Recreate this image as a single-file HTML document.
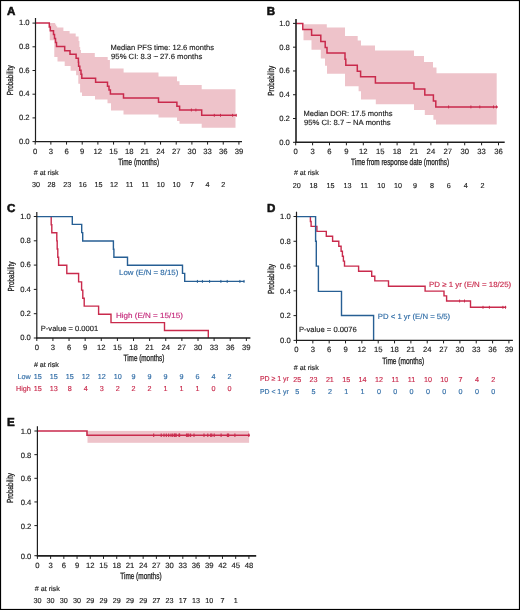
<!DOCTYPE html>
<html><head><meta charset="utf-8"><style>
html,body{margin:0;padding:0;background:#fff;}
body{width:520px;height:610px;overflow:hidden;font-family:"Liberation Sans",sans-serif;}
svg{display:block;will-change:transform;text-rendering:geometricPrecision;}
</style></head><body>
<svg width="520" height="610" viewBox="0 0 520 610" font-family="Liberation Sans, sans-serif">
<rect x="0" y="0" width="520" height="610" fill="#fff"/>
<text x="7" y="15" font-size="11.6" fill="#111" stroke="#111" stroke-width="0.55" font-weight="bold">A</text>
<path d="M49.8 23.1 L55.2 23.1 L55.2 24.6 L56.2 24.6 L56.2 26.2 L57.2 26.2 L57.2 27.6 L63.4 27.6 L63.4 31.1 L69.6 31.1 L69.6 33.4 L75.7 33.4 L75.7 36.6 L78.6 36.6 L78.6 41 L79.4 41 L79.4 47 L80.2 47 L80.2 50 L81 50 L81 53 L94.8 53 L94.8 57 L107.7 57 L107.7 60.1 L109.9 60.1 L109.9 68.4 L123.6 68.4 L123.6 72.5 L158.5 72.5 L158.5 76.6 L177 76.6 L177 81.2 L179.5 81.2 L179.5 85.1 L201.7 85.1 L201.7 89.2 L235.5 89.2 L235.5 127.8 L201.7 127.8 L201.7 123.7 L179.5 123.7 L179.5 121 L177 121 L177 117.5 L158.5 117.5 L158.5 114.4 L123.5 114.4 L123.5 110.6 L111 110.6 L111 103.2 L107.5 103.2 L107.5 99.5 L95 99.5 L95 95.9 L82 95.9 L82 92.5 L80.1 92.5 L80.1 83.8 L78.3 83.8 L78.3 75.3 L76.1 75.3 L76.1 70.7 L70.6 70.7 L70.6 66.1 L64.7 66.1 L64.7 61.6 L57.5 61.6 L57.5 57 L54.3 57 L54.3 40.2 L49.8 40.2Z" fill="#eec3ca"/>
<path d="M35.5 23.1H49.3V26.9H50.3V30.7H53.5V34.6H54.5V38.6H55.5V42.5H56.5V46.5H64.7V50.7H70V54.3H76.1V58.3H78.4V62.3H78.6V66.3H79.8V70.3H81V74.3H81.8V78.2H95.6V82.2H107.5V86.2H109V90.1H110.4V94.1H123.5V98.1H158.5V102.2H176.9V106.2H179.6V110H201.7V115.3H236.5" fill="none" stroke="#c92a4c" stroke-width="1.5" stroke-linejoin="miter"/>
<line x1="191.4" y1="108.55" x2="191.4" y2="111.45" stroke="#c92a4c" stroke-width="1"/>
<line x1="195.9" y1="108.55" x2="195.9" y2="111.45" stroke="#c92a4c" stroke-width="1"/>
<line x1="214.3" y1="113.85" x2="214.3" y2="116.75" stroke="#c92a4c" stroke-width="1"/>
<line x1="220.5" y1="113.85" x2="220.5" y2="116.75" stroke="#c92a4c" stroke-width="1"/>
<line x1="232.6" y1="113.85" x2="232.6" y2="116.75" stroke="#c92a4c" stroke-width="1"/>
<line x1="236.2" y1="113.85" x2="236.2" y2="116.75" stroke="#c92a4c" stroke-width="1"/>
<line x1="35.5" y1="18" x2="35.5" y2="142.2" stroke="#1e1e1e" stroke-width="1.2"/>
<line x1="34.9" y1="141.6" x2="242" y2="141.6" stroke="#1e1e1e" stroke-width="1.4"/>
<line x1="32.5" y1="23.1" x2="35.5" y2="23.1" stroke="#1e1e1e" stroke-width="1"/>
<text x="29.6" y="25.2" font-size="7.7" fill="#222222" stroke="#222222" stroke-width="0.15" text-anchor="end">1.0</text>
<line x1="32.5" y1="46.8" x2="35.5" y2="46.8" stroke="#1e1e1e" stroke-width="1"/>
<text x="29.6" y="48.9" font-size="7.7" fill="#222222" stroke="#222222" stroke-width="0.15" text-anchor="end">0.8</text>
<line x1="32.5" y1="70.5" x2="35.5" y2="70.5" stroke="#1e1e1e" stroke-width="1"/>
<text x="29.6" y="72.6" font-size="7.7" fill="#222222" stroke="#222222" stroke-width="0.15" text-anchor="end">0.6</text>
<line x1="32.5" y1="94.2" x2="35.5" y2="94.2" stroke="#1e1e1e" stroke-width="1"/>
<text x="29.6" y="96.3" font-size="7.7" fill="#222222" stroke="#222222" stroke-width="0.15" text-anchor="end">0.4</text>
<line x1="32.5" y1="117.9" x2="35.5" y2="117.9" stroke="#1e1e1e" stroke-width="1"/>
<text x="29.6" y="120" font-size="7.7" fill="#222222" stroke="#222222" stroke-width="0.15" text-anchor="end">0.2</text>
<line x1="32.5" y1="141.6" x2="35.5" y2="141.6" stroke="#1e1e1e" stroke-width="1"/>
<text x="29.6" y="143.7" font-size="7.7" fill="#222222" stroke="#222222" stroke-width="0.15" text-anchor="end">0.0</text>
<line x1="35.2" y1="141.6" x2="35.2" y2="144.6" stroke="#1e1e1e" stroke-width="1"/>
<text x="35.2" y="153.6" font-size="7.7" fill="#222222" stroke="#222222" stroke-width="0.15" text-anchor="middle">0</text>
<line x1="50.87" y1="141.6" x2="50.87" y2="144.6" stroke="#1e1e1e" stroke-width="1"/>
<text x="50.87" y="153.6" font-size="7.7" fill="#222222" stroke="#222222" stroke-width="0.15" text-anchor="middle">3</text>
<line x1="66.54" y1="141.6" x2="66.54" y2="144.6" stroke="#1e1e1e" stroke-width="1"/>
<text x="66.54" y="153.6" font-size="7.7" fill="#222222" stroke="#222222" stroke-width="0.15" text-anchor="middle">6</text>
<line x1="82.21" y1="141.6" x2="82.21" y2="144.6" stroke="#1e1e1e" stroke-width="1"/>
<text x="82.21" y="153.6" font-size="7.7" fill="#222222" stroke="#222222" stroke-width="0.15" text-anchor="middle">9</text>
<line x1="97.88" y1="141.6" x2="97.88" y2="144.6" stroke="#1e1e1e" stroke-width="1"/>
<text x="97.88" y="153.6" font-size="7.7" fill="#222222" stroke="#222222" stroke-width="0.15" text-anchor="middle">12</text>
<line x1="113.55" y1="141.6" x2="113.55" y2="144.6" stroke="#1e1e1e" stroke-width="1"/>
<text x="113.55" y="153.6" font-size="7.7" fill="#222222" stroke="#222222" stroke-width="0.15" text-anchor="middle">15</text>
<line x1="129.22" y1="141.6" x2="129.22" y2="144.6" stroke="#1e1e1e" stroke-width="1"/>
<text x="129.22" y="153.6" font-size="7.7" fill="#222222" stroke="#222222" stroke-width="0.15" text-anchor="middle">18</text>
<line x1="144.89" y1="141.6" x2="144.89" y2="144.6" stroke="#1e1e1e" stroke-width="1"/>
<text x="144.89" y="153.6" font-size="7.7" fill="#222222" stroke="#222222" stroke-width="0.15" text-anchor="middle">21</text>
<line x1="160.56" y1="141.6" x2="160.56" y2="144.6" stroke="#1e1e1e" stroke-width="1"/>
<text x="160.56" y="153.6" font-size="7.7" fill="#222222" stroke="#222222" stroke-width="0.15" text-anchor="middle">24</text>
<line x1="176.23" y1="141.6" x2="176.23" y2="144.6" stroke="#1e1e1e" stroke-width="1"/>
<text x="176.23" y="153.6" font-size="7.7" fill="#222222" stroke="#222222" stroke-width="0.15" text-anchor="middle">27</text>
<line x1="191.9" y1="141.6" x2="191.9" y2="144.6" stroke="#1e1e1e" stroke-width="1"/>
<text x="191.9" y="153.6" font-size="7.7" fill="#222222" stroke="#222222" stroke-width="0.15" text-anchor="middle">30</text>
<line x1="207.57" y1="141.6" x2="207.57" y2="144.6" stroke="#1e1e1e" stroke-width="1"/>
<text x="207.57" y="153.6" font-size="7.7" fill="#222222" stroke="#222222" stroke-width="0.15" text-anchor="middle">33</text>
<line x1="223.24" y1="141.6" x2="223.24" y2="144.6" stroke="#1e1e1e" stroke-width="1"/>
<text x="223.24" y="153.6" font-size="7.7" fill="#222222" stroke="#222222" stroke-width="0.15" text-anchor="middle">36</text>
<line x1="238.91" y1="141.6" x2="238.91" y2="144.6" stroke="#1e1e1e" stroke-width="1"/>
<text x="238.91" y="153.6" font-size="7.7" fill="#222222" stroke="#222222" stroke-width="0.15" text-anchor="middle">39</text>
<text transform="translate(12.8 80.3) rotate(-90)" x="0" y="0" font-size="8.8" fill="#222222" stroke="#222222" stroke-width="0.3" text-anchor="middle" textLength="30" lengthAdjust="spacingAndGlyphs">Probability</text>
<text x="138.7" y="164.8" font-size="9.2" fill="#222222" stroke="#222222" stroke-width="0.3" text-anchor="middle" textLength="41" lengthAdjust="spacingAndGlyphs">Time (months)</text>
<text x="110.5" y="49.9" font-size="7.6" fill="#222222" stroke="#222222" stroke-width="0.15" textLength="103.5" lengthAdjust="spacingAndGlyphs">Median PFS time: 12.6 months</text>
<text x="111.1" y="58.8" font-size="7.6" fill="#222222" stroke="#222222" stroke-width="0.15" textLength="91.2" lengthAdjust="spacingAndGlyphs">95% CI: 8.3 ~ 27.6 months</text>
<text x="33.7" y="174.8" font-size="7" fill="#222222" stroke="#222222" stroke-width="0.15" textLength="25" lengthAdjust="spacingAndGlyphs"># at risk</text>
<text x="36" y="187" font-size="7.2" fill="#222222" stroke="#222222" stroke-width="0.15" text-anchor="middle">30</text>
<text x="51.6" y="187" font-size="7.2" fill="#222222" stroke="#222222" stroke-width="0.15" text-anchor="middle">28</text>
<text x="67.2" y="187" font-size="7.2" fill="#222222" stroke="#222222" stroke-width="0.15" text-anchor="middle">23</text>
<text x="82.8" y="187" font-size="7.2" fill="#222222" stroke="#222222" stroke-width="0.15" text-anchor="middle">16</text>
<text x="98.4" y="187" font-size="7.2" fill="#222222" stroke="#222222" stroke-width="0.15" text-anchor="middle">15</text>
<text x="114" y="187" font-size="7.2" fill="#222222" stroke="#222222" stroke-width="0.15" text-anchor="middle">12</text>
<text x="129.6" y="187" font-size="7.2" fill="#222222" stroke="#222222" stroke-width="0.15" text-anchor="middle">11</text>
<text x="145.2" y="187" font-size="7.2" fill="#222222" stroke="#222222" stroke-width="0.15" text-anchor="middle">11</text>
<text x="160.8" y="187" font-size="7.2" fill="#222222" stroke="#222222" stroke-width="0.15" text-anchor="middle">10</text>
<text x="176.4" y="187" font-size="7.2" fill="#222222" stroke="#222222" stroke-width="0.15" text-anchor="middle">10</text>
<text x="192" y="187" font-size="7.2" fill="#222222" stroke="#222222" stroke-width="0.15" text-anchor="middle">7</text>
<text x="207.6" y="187" font-size="7.2" fill="#222222" stroke="#222222" stroke-width="0.15" text-anchor="middle">4</text>
<text x="223.2" y="187" font-size="7.2" fill="#222222" stroke="#222222" stroke-width="0.15" text-anchor="middle">2</text>
<text x="266.8" y="15" font-size="11.6" fill="#111" stroke="#111" stroke-width="0.55" font-weight="bold">B</text>
<path d="M303.5 24.2 L326.8 24.2 L326.8 27.6 L345 27.6 L345 36 L357.7 36 L357.7 40.5 L361 40.5 L361 45.4 L375 45.4 L375 50.5 L414 50.5 L414 55.9 L424 55.9 L424 61.9 L433 61.9 L433 67.4 L436.5 67.4 L436.5 73.2 L496.7 73.2 L496.7 124.5 L436 124.5 L436 119.7 L433.4 119.7 L433.4 114.9 L424.8 114.9 L424.8 110 L414 110 L414 104.2 L375.8 104.2 L375.8 99.4 L361 99.4 L361 91.3 L358.6 91.3 L358.6 86.3 L345 86.3 L345 73.7 L327 73.7 L327 65.8 L325 65.8 L325 58.6 L320.8 58.6 L320.8 49.7 L311.5 49.7 L311.5 40.3 L303.5 40.3Z" fill="#eec3ca"/>
<path d="M296 23.5H302.8V29.5H311.6V35.3H320.8V41.5H325.2V47.5H327V53.1H345V59.3H345.8V65.2H357.3V71.2H360.6V76.8H375.4V83H414V89H424.8V95H433.4V101H435.8V106.9H497.8" fill="none" stroke="#c92a4c" stroke-width="1.5" stroke-linejoin="miter"/>
<line x1="448.6" y1="105.45" x2="448.6" y2="108.35" stroke="#c92a4c" stroke-width="1"/>
<line x1="470.9" y1="105.45" x2="470.9" y2="108.35" stroke="#c92a4c" stroke-width="1"/>
<line x1="479.8" y1="105.45" x2="479.8" y2="108.35" stroke="#c92a4c" stroke-width="1"/>
<line x1="493.5" y1="105.45" x2="493.5" y2="108.35" stroke="#c92a4c" stroke-width="1"/>
<line x1="496.5" y1="105.45" x2="496.5" y2="108.35" stroke="#c92a4c" stroke-width="1"/>
<line x1="296" y1="19" x2="296" y2="142.9" stroke="#1e1e1e" stroke-width="1.6"/>
<line x1="295.4" y1="142.3" x2="504.7" y2="142.3" stroke="#1e1e1e" stroke-width="1.4"/>
<line x1="293" y1="23.4" x2="296" y2="23.4" stroke="#1e1e1e" stroke-width="1"/>
<text x="289.9" y="25.9" font-size="7.7" fill="#222222" stroke="#222222" stroke-width="0.15" text-anchor="end">1.0</text>
<line x1="293" y1="47.18" x2="296" y2="47.18" stroke="#1e1e1e" stroke-width="1"/>
<text x="289.9" y="49.68" font-size="7.7" fill="#222222" stroke="#222222" stroke-width="0.15" text-anchor="end">0.8</text>
<line x1="293" y1="70.96" x2="296" y2="70.96" stroke="#1e1e1e" stroke-width="1"/>
<text x="289.9" y="73.46" font-size="7.7" fill="#222222" stroke="#222222" stroke-width="0.15" text-anchor="end">0.6</text>
<line x1="293" y1="94.74" x2="296" y2="94.74" stroke="#1e1e1e" stroke-width="1"/>
<text x="289.9" y="97.24" font-size="7.7" fill="#222222" stroke="#222222" stroke-width="0.15" text-anchor="end">0.4</text>
<line x1="293" y1="118.52" x2="296" y2="118.52" stroke="#1e1e1e" stroke-width="1"/>
<text x="289.9" y="121.02" font-size="7.7" fill="#222222" stroke="#222222" stroke-width="0.15" text-anchor="end">0.2</text>
<line x1="293" y1="142.3" x2="296" y2="142.3" stroke="#1e1e1e" stroke-width="1"/>
<text x="289.9" y="144.8" font-size="7.7" fill="#222222" stroke="#222222" stroke-width="0.15" text-anchor="end">0.0</text>
<line x1="295.7" y1="142.3" x2="295.7" y2="145.3" stroke="#1e1e1e" stroke-width="1"/>
<text x="295.7" y="153.9" font-size="7.7" fill="#222222" stroke="#222222" stroke-width="0.15" text-anchor="middle">0</text>
<line x1="312.6" y1="142.3" x2="312.6" y2="145.3" stroke="#1e1e1e" stroke-width="1"/>
<text x="312.6" y="153.9" font-size="7.7" fill="#222222" stroke="#222222" stroke-width="0.15" text-anchor="middle">3</text>
<line x1="329.5" y1="142.3" x2="329.5" y2="145.3" stroke="#1e1e1e" stroke-width="1"/>
<text x="329.5" y="153.9" font-size="7.7" fill="#222222" stroke="#222222" stroke-width="0.15" text-anchor="middle">6</text>
<line x1="346.4" y1="142.3" x2="346.4" y2="145.3" stroke="#1e1e1e" stroke-width="1"/>
<text x="346.4" y="153.9" font-size="7.7" fill="#222222" stroke="#222222" stroke-width="0.15" text-anchor="middle">9</text>
<line x1="363.3" y1="142.3" x2="363.3" y2="145.3" stroke="#1e1e1e" stroke-width="1"/>
<text x="363.3" y="153.9" font-size="7.7" fill="#222222" stroke="#222222" stroke-width="0.15" text-anchor="middle">12</text>
<line x1="380.2" y1="142.3" x2="380.2" y2="145.3" stroke="#1e1e1e" stroke-width="1"/>
<text x="380.2" y="153.9" font-size="7.7" fill="#222222" stroke="#222222" stroke-width="0.15" text-anchor="middle">15</text>
<line x1="397.1" y1="142.3" x2="397.1" y2="145.3" stroke="#1e1e1e" stroke-width="1"/>
<text x="397.1" y="153.9" font-size="7.7" fill="#222222" stroke="#222222" stroke-width="0.15" text-anchor="middle">18</text>
<line x1="414" y1="142.3" x2="414" y2="145.3" stroke="#1e1e1e" stroke-width="1"/>
<text x="414" y="153.9" font-size="7.7" fill="#222222" stroke="#222222" stroke-width="0.15" text-anchor="middle">21</text>
<line x1="430.9" y1="142.3" x2="430.9" y2="145.3" stroke="#1e1e1e" stroke-width="1"/>
<text x="430.9" y="153.9" font-size="7.7" fill="#222222" stroke="#222222" stroke-width="0.15" text-anchor="middle">24</text>
<line x1="447.8" y1="142.3" x2="447.8" y2="145.3" stroke="#1e1e1e" stroke-width="1"/>
<text x="447.8" y="153.9" font-size="7.7" fill="#222222" stroke="#222222" stroke-width="0.15" text-anchor="middle">27</text>
<line x1="464.7" y1="142.3" x2="464.7" y2="145.3" stroke="#1e1e1e" stroke-width="1"/>
<text x="464.7" y="153.9" font-size="7.7" fill="#222222" stroke="#222222" stroke-width="0.15" text-anchor="middle">30</text>
<line x1="481.6" y1="142.3" x2="481.6" y2="145.3" stroke="#1e1e1e" stroke-width="1"/>
<text x="481.6" y="153.9" font-size="7.7" fill="#222222" stroke="#222222" stroke-width="0.15" text-anchor="middle">33</text>
<line x1="498.5" y1="142.3" x2="498.5" y2="145.3" stroke="#1e1e1e" stroke-width="1"/>
<text x="498.5" y="153.9" font-size="7.7" fill="#222222" stroke="#222222" stroke-width="0.15" text-anchor="middle">36</text>
<text transform="translate(274 80.8) rotate(-90)" x="0" y="0" font-size="8.8" fill="#222222" stroke="#222222" stroke-width="0.3" text-anchor="middle" textLength="30" lengthAdjust="spacingAndGlyphs">Probability</text>
<text x="400.1" y="164.7" font-size="9.2" fill="#222222" stroke="#222222" stroke-width="0.3" text-anchor="middle" textLength="98" lengthAdjust="spacingAndGlyphs">Time from response date (months)</text>
<text x="303.6" y="116.4" font-size="7.6" fill="#222222" stroke="#222222" stroke-width="0.15" textLength="88.9" lengthAdjust="spacingAndGlyphs">Median DOR: 17.5 months</text>
<text x="303.9" y="125.3" font-size="7.6" fill="#222222" stroke="#222222" stroke-width="0.15" textLength="86.8" lengthAdjust="spacingAndGlyphs">95% CI: 8.7 ~ NA months</text>
<text x="293.9" y="175.2" font-size="7" fill="#222222" stroke="#222222" stroke-width="0.15" textLength="24.8" lengthAdjust="spacingAndGlyphs"># at risk</text>
<text x="296.7" y="187.7" font-size="7.2" fill="#222222" stroke="#222222" stroke-width="0.15" text-anchor="middle">20</text>
<text x="313.6" y="187.7" font-size="7.2" fill="#222222" stroke="#222222" stroke-width="0.15" text-anchor="middle">18</text>
<text x="330.5" y="187.7" font-size="7.2" fill="#222222" stroke="#222222" stroke-width="0.15" text-anchor="middle">15</text>
<text x="347.4" y="187.7" font-size="7.2" fill="#222222" stroke="#222222" stroke-width="0.15" text-anchor="middle">13</text>
<text x="364.3" y="187.7" font-size="7.2" fill="#222222" stroke="#222222" stroke-width="0.15" text-anchor="middle">11</text>
<text x="381.2" y="187.7" font-size="7.2" fill="#222222" stroke="#222222" stroke-width="0.15" text-anchor="middle">10</text>
<text x="398.1" y="187.7" font-size="7.2" fill="#222222" stroke="#222222" stroke-width="0.15" text-anchor="middle">10</text>
<text x="415" y="187.7" font-size="7.2" fill="#222222" stroke="#222222" stroke-width="0.15" text-anchor="middle">9</text>
<text x="431.9" y="187.7" font-size="7.2" fill="#222222" stroke="#222222" stroke-width="0.15" text-anchor="middle">8</text>
<text x="448.8" y="187.7" font-size="7.2" fill="#222222" stroke="#222222" stroke-width="0.15" text-anchor="middle">6</text>
<text x="465.7" y="187.7" font-size="7.2" fill="#222222" stroke="#222222" stroke-width="0.15" text-anchor="middle">4</text>
<text x="482.6" y="187.7" font-size="7.2" fill="#222222" stroke="#222222" stroke-width="0.15" text-anchor="middle">2</text>
<text x="7.1" y="211.5" font-size="11.6" fill="#111" stroke="#111" stroke-width="0.55" font-weight="bold">C</text>
<path d="M50.4 216.6H51.2V224.7H51.8V232.8H56.8V240.9H57.2V249H57.8V257.3H58.6V265.3H66.8V273.5H78.6V281.9H81.6V290.1H82.8V298.2H84.2V306.1H98.6V314.3H111V322.6H164.5V330.5H208.3V338" fill="none" stroke="#c92a4c" stroke-width="1.4" stroke-linejoin="miter"/>
<path d="M36.8 216.6H72.3V224.4H81.7V232.6H82.7V241H113.4V249.3H113.9V257.2H127.5V265.3H182.5V273.4H184.7V281.4H244.4" fill="none" stroke="#275f94" stroke-width="1.4" stroke-linejoin="miter"/>
<line x1="197.4" y1="279.95" x2="197.4" y2="282.85" stroke="#275f94" stroke-width="1"/>
<line x1="202.4" y1="279.95" x2="202.4" y2="282.85" stroke="#275f94" stroke-width="1"/>
<line x1="209.6" y1="279.95" x2="209.6" y2="282.85" stroke="#275f94" stroke-width="1"/>
<line x1="220.9" y1="279.95" x2="220.9" y2="282.85" stroke="#275f94" stroke-width="1"/>
<line x1="227.2" y1="279.95" x2="227.2" y2="282.85" stroke="#275f94" stroke-width="1"/>
<line x1="239.9" y1="279.95" x2="239.9" y2="282.85" stroke="#275f94" stroke-width="1"/>
<line x1="244" y1="279.95" x2="244" y2="282.85" stroke="#275f94" stroke-width="1"/>
<line x1="36.8" y1="212" x2="36.8" y2="338.6" stroke="#1e1e1e" stroke-width="1.2"/>
<line x1="36.2" y1="338" x2="250.4" y2="338" stroke="#1e1e1e" stroke-width="1.4"/>
<line x1="33.8" y1="216.5" x2="36.8" y2="216.5" stroke="#1e1e1e" stroke-width="1"/>
<text x="30.9" y="218.8" font-size="7.7" fill="#222222" stroke="#222222" stroke-width="0.15" text-anchor="end">1.0</text>
<line x1="33.8" y1="240.8" x2="36.8" y2="240.8" stroke="#1e1e1e" stroke-width="1"/>
<text x="30.9" y="243.1" font-size="7.7" fill="#222222" stroke="#222222" stroke-width="0.15" text-anchor="end">0.8</text>
<line x1="33.8" y1="265.1" x2="36.8" y2="265.1" stroke="#1e1e1e" stroke-width="1"/>
<text x="30.9" y="267.4" font-size="7.7" fill="#222222" stroke="#222222" stroke-width="0.15" text-anchor="end">0.6</text>
<line x1="33.8" y1="289.4" x2="36.8" y2="289.4" stroke="#1e1e1e" stroke-width="1"/>
<text x="30.9" y="291.7" font-size="7.7" fill="#222222" stroke="#222222" stroke-width="0.15" text-anchor="end">0.4</text>
<line x1="33.8" y1="313.7" x2="36.8" y2="313.7" stroke="#1e1e1e" stroke-width="1"/>
<text x="30.9" y="316" font-size="7.7" fill="#222222" stroke="#222222" stroke-width="0.15" text-anchor="end">0.2</text>
<line x1="33.8" y1="338" x2="36.8" y2="338" stroke="#1e1e1e" stroke-width="1"/>
<text x="30.9" y="340.3" font-size="7.7" fill="#222222" stroke="#222222" stroke-width="0.15" text-anchor="end">0.0</text>
<line x1="36.8" y1="338" x2="36.8" y2="341" stroke="#1e1e1e" stroke-width="1"/>
<text x="36.8" y="350.2" font-size="7.7" fill="#222222" stroke="#222222" stroke-width="0.15" text-anchor="middle">0</text>
<line x1="52.92" y1="338" x2="52.92" y2="341" stroke="#1e1e1e" stroke-width="1"/>
<text x="52.92" y="350.2" font-size="7.7" fill="#222222" stroke="#222222" stroke-width="0.15" text-anchor="middle">3</text>
<line x1="69.04" y1="338" x2="69.04" y2="341" stroke="#1e1e1e" stroke-width="1"/>
<text x="69.04" y="350.2" font-size="7.7" fill="#222222" stroke="#222222" stroke-width="0.15" text-anchor="middle">6</text>
<line x1="85.16" y1="338" x2="85.16" y2="341" stroke="#1e1e1e" stroke-width="1"/>
<text x="85.16" y="350.2" font-size="7.7" fill="#222222" stroke="#222222" stroke-width="0.15" text-anchor="middle">9</text>
<line x1="101.28" y1="338" x2="101.28" y2="341" stroke="#1e1e1e" stroke-width="1"/>
<text x="101.28" y="350.2" font-size="7.7" fill="#222222" stroke="#222222" stroke-width="0.15" text-anchor="middle">12</text>
<line x1="117.4" y1="338" x2="117.4" y2="341" stroke="#1e1e1e" stroke-width="1"/>
<text x="117.4" y="350.2" font-size="7.7" fill="#222222" stroke="#222222" stroke-width="0.15" text-anchor="middle">15</text>
<line x1="133.52" y1="338" x2="133.52" y2="341" stroke="#1e1e1e" stroke-width="1"/>
<text x="133.52" y="350.2" font-size="7.7" fill="#222222" stroke="#222222" stroke-width="0.15" text-anchor="middle">18</text>
<line x1="149.64" y1="338" x2="149.64" y2="341" stroke="#1e1e1e" stroke-width="1"/>
<text x="149.64" y="350.2" font-size="7.7" fill="#222222" stroke="#222222" stroke-width="0.15" text-anchor="middle">21</text>
<line x1="165.76" y1="338" x2="165.76" y2="341" stroke="#1e1e1e" stroke-width="1"/>
<text x="165.76" y="350.2" font-size="7.7" fill="#222222" stroke="#222222" stroke-width="0.15" text-anchor="middle">24</text>
<line x1="181.88" y1="338" x2="181.88" y2="341" stroke="#1e1e1e" stroke-width="1"/>
<text x="181.88" y="350.2" font-size="7.7" fill="#222222" stroke="#222222" stroke-width="0.15" text-anchor="middle">27</text>
<line x1="198" y1="338" x2="198" y2="341" stroke="#1e1e1e" stroke-width="1"/>
<text x="198" y="350.2" font-size="7.7" fill="#222222" stroke="#222222" stroke-width="0.15" text-anchor="middle">30</text>
<line x1="214.12" y1="338" x2="214.12" y2="341" stroke="#1e1e1e" stroke-width="1"/>
<text x="214.12" y="350.2" font-size="7.7" fill="#222222" stroke="#222222" stroke-width="0.15" text-anchor="middle">33</text>
<line x1="230.24" y1="338" x2="230.24" y2="341" stroke="#1e1e1e" stroke-width="1"/>
<text x="230.24" y="350.2" font-size="7.7" fill="#222222" stroke="#222222" stroke-width="0.15" text-anchor="middle">36</text>
<line x1="246.36" y1="338" x2="246.36" y2="341" stroke="#1e1e1e" stroke-width="1"/>
<text x="246.36" y="350.2" font-size="7.7" fill="#222222" stroke="#222222" stroke-width="0.15" text-anchor="middle">39</text>
<text transform="translate(13.6 276.5) rotate(-90)" x="0" y="0" font-size="8.8" fill="#222222" stroke="#222222" stroke-width="0.3" text-anchor="middle" textLength="30" lengthAdjust="spacingAndGlyphs">Probability</text>
<text x="143.9" y="360.8" font-size="9.2" fill="#222222" stroke="#222222" stroke-width="0.3" text-anchor="middle" textLength="40.7" lengthAdjust="spacingAndGlyphs">Time (months)</text>
<text x="119" y="275.4" font-size="7.6" fill="#2f6ca6" stroke="#2f6ca6" stroke-width="0.15" textLength="59.3" lengthAdjust="spacingAndGlyphs">Low (E/N = 8/15)</text>
<text x="115.9" y="317.9" font-size="7.6" fill="#c4287a" stroke="#c4287a" stroke-width="0.15" textLength="67" lengthAdjust="spacingAndGlyphs">High (E/N = 15/15)</text>
<text x="40.8" y="330.9" font-size="7.6" fill="#222222" stroke="#222222" stroke-width="0.15" textLength="57.4" lengthAdjust="spacingAndGlyphs">P-value = 0.0001</text>
<text x="33.9" y="367" font-size="6.8" fill="#222222" stroke="#222222" stroke-width="0.15" textLength="24.9" lengthAdjust="spacingAndGlyphs"># at risk</text>
<text x="30.8" y="378.9" font-size="7.2" fill="#2f6ca6" stroke="#2f6ca6" stroke-width="0.15" text-anchor="end">Low</text>
<text x="30.8" y="391.1" font-size="7.2" fill="#c92a4c" stroke="#c92a4c" stroke-width="0.15" text-anchor="end">High</text>
<text x="37.8" y="378.9" font-size="7.2" fill="#2f6ca6" stroke="#2f6ca6" stroke-width="0.15" text-anchor="middle">15</text>
<text x="53.77" y="378.9" font-size="7.2" fill="#2f6ca6" stroke="#2f6ca6" stroke-width="0.15" text-anchor="middle">15</text>
<text x="69.74" y="378.9" font-size="7.2" fill="#2f6ca6" stroke="#2f6ca6" stroke-width="0.15" text-anchor="middle">15</text>
<text x="85.71" y="378.9" font-size="7.2" fill="#2f6ca6" stroke="#2f6ca6" stroke-width="0.15" text-anchor="middle">12</text>
<text x="101.68" y="378.9" font-size="7.2" fill="#2f6ca6" stroke="#2f6ca6" stroke-width="0.15" text-anchor="middle">12</text>
<text x="117.65" y="378.9" font-size="7.2" fill="#2f6ca6" stroke="#2f6ca6" stroke-width="0.15" text-anchor="middle">10</text>
<text x="133.62" y="378.9" font-size="7.2" fill="#2f6ca6" stroke="#2f6ca6" stroke-width="0.15" text-anchor="middle">9</text>
<text x="149.59" y="378.9" font-size="7.2" fill="#2f6ca6" stroke="#2f6ca6" stroke-width="0.15" text-anchor="middle">9</text>
<text x="165.56" y="378.9" font-size="7.2" fill="#2f6ca6" stroke="#2f6ca6" stroke-width="0.15" text-anchor="middle">9</text>
<text x="181.53" y="378.9" font-size="7.2" fill="#2f6ca6" stroke="#2f6ca6" stroke-width="0.15" text-anchor="middle">9</text>
<text x="197.5" y="378.9" font-size="7.2" fill="#2f6ca6" stroke="#2f6ca6" stroke-width="0.15" text-anchor="middle">6</text>
<text x="213.47" y="378.9" font-size="7.2" fill="#2f6ca6" stroke="#2f6ca6" stroke-width="0.15" text-anchor="middle">4</text>
<text x="229.44" y="378.9" font-size="7.2" fill="#2f6ca6" stroke="#2f6ca6" stroke-width="0.15" text-anchor="middle">2</text>
<text x="37.8" y="391.1" font-size="7.2" fill="#c92a4c" stroke="#c92a4c" stroke-width="0.15" text-anchor="middle">15</text>
<text x="53.77" y="391.1" font-size="7.2" fill="#c92a4c" stroke="#c92a4c" stroke-width="0.15" text-anchor="middle">13</text>
<text x="69.74" y="391.1" font-size="7.2" fill="#c92a4c" stroke="#c92a4c" stroke-width="0.15" text-anchor="middle">8</text>
<text x="85.71" y="391.1" font-size="7.2" fill="#c92a4c" stroke="#c92a4c" stroke-width="0.15" text-anchor="middle">4</text>
<text x="101.68" y="391.1" font-size="7.2" fill="#c92a4c" stroke="#c92a4c" stroke-width="0.15" text-anchor="middle">3</text>
<text x="117.65" y="391.1" font-size="7.2" fill="#c92a4c" stroke="#c92a4c" stroke-width="0.15" text-anchor="middle">2</text>
<text x="133.62" y="391.1" font-size="7.2" fill="#c92a4c" stroke="#c92a4c" stroke-width="0.15" text-anchor="middle">2</text>
<text x="149.59" y="391.1" font-size="7.2" fill="#c92a4c" stroke="#c92a4c" stroke-width="0.15" text-anchor="middle">2</text>
<text x="165.56" y="391.1" font-size="7.2" fill="#c92a4c" stroke="#c92a4c" stroke-width="0.15" text-anchor="middle">1</text>
<text x="181.53" y="391.1" font-size="7.2" fill="#c92a4c" stroke="#c92a4c" stroke-width="0.15" text-anchor="middle">1</text>
<text x="197.5" y="391.1" font-size="7.2" fill="#c92a4c" stroke="#c92a4c" stroke-width="0.15" text-anchor="middle">1</text>
<text x="213.47" y="391.1" font-size="7.2" fill="#c92a4c" stroke="#c92a4c" stroke-width="0.15" text-anchor="middle">0</text>
<text x="229.44" y="391.1" font-size="7.2" fill="#c92a4c" stroke="#c92a4c" stroke-width="0.15" text-anchor="middle">0</text>
<text x="266.9" y="211.6" font-size="11.6" fill="#111" stroke="#111" stroke-width="0.55" font-weight="bold">D</text>
<path d="M309.6 216.6H310.4V221.5H311.1V226.4H316.9V231.4H326.3V236.3H332.6V241.3H338.8V246.2H341.1V251.2H342.4V256.2H343.4V261.1H344.5V266.1H358.6V271.3H371.7V276.2H374.8V280.9H388.5V286.2H425.1V291.1H444V295.9H446.6V301H470.5V307.3H506.3" fill="none" stroke="#c92a4c" stroke-width="1.4" stroke-linejoin="miter"/>
<path d="M296.5 216.6H315.6V241.3H316.3V266.1H318.4V291.4H341.5V315.5H373.6V340.4" fill="none" stroke="#275f94" stroke-width="1.4" stroke-linejoin="miter"/>
<line x1="459.6" y1="299.55" x2="459.6" y2="302.45" stroke="#c92a4c" stroke-width="1"/>
<line x1="464.5" y1="299.55" x2="464.5" y2="302.45" stroke="#c92a4c" stroke-width="1"/>
<line x1="483" y1="305.85" x2="483" y2="308.75" stroke="#c92a4c" stroke-width="1"/>
<line x1="489.4" y1="305.85" x2="489.4" y2="308.75" stroke="#c92a4c" stroke-width="1"/>
<line x1="502.9" y1="305.85" x2="502.9" y2="308.75" stroke="#c92a4c" stroke-width="1"/>
<line x1="505.5" y1="305.85" x2="505.5" y2="308.75" stroke="#c92a4c" stroke-width="1"/>
<line x1="296.5" y1="211.7" x2="296.5" y2="341" stroke="#1e1e1e" stroke-width="1.2"/>
<line x1="295.9" y1="340.4" x2="512.9" y2="340.4" stroke="#1e1e1e" stroke-width="1.4"/>
<line x1="293.5" y1="216.5" x2="296.5" y2="216.5" stroke="#1e1e1e" stroke-width="1"/>
<text x="290.8" y="219.3" font-size="7.7" fill="#222222" stroke="#222222" stroke-width="0.15" text-anchor="end">1.0</text>
<line x1="293.5" y1="241.28" x2="296.5" y2="241.28" stroke="#1e1e1e" stroke-width="1"/>
<text x="290.8" y="244.08" font-size="7.7" fill="#222222" stroke="#222222" stroke-width="0.15" text-anchor="end">0.8</text>
<line x1="293.5" y1="266.06" x2="296.5" y2="266.06" stroke="#1e1e1e" stroke-width="1"/>
<text x="290.8" y="268.86" font-size="7.7" fill="#222222" stroke="#222222" stroke-width="0.15" text-anchor="end">0.6</text>
<line x1="293.5" y1="290.84" x2="296.5" y2="290.84" stroke="#1e1e1e" stroke-width="1"/>
<text x="290.8" y="293.64" font-size="7.7" fill="#222222" stroke="#222222" stroke-width="0.15" text-anchor="end">0.4</text>
<line x1="293.5" y1="315.62" x2="296.5" y2="315.62" stroke="#1e1e1e" stroke-width="1"/>
<text x="290.8" y="318.42" font-size="7.7" fill="#222222" stroke="#222222" stroke-width="0.15" text-anchor="end">0.2</text>
<line x1="293.5" y1="340.4" x2="296.5" y2="340.4" stroke="#1e1e1e" stroke-width="1"/>
<text x="290.8" y="343.2" font-size="7.7" fill="#222222" stroke="#222222" stroke-width="0.15" text-anchor="end">0.0</text>
<line x1="296.5" y1="340.4" x2="296.5" y2="343.4" stroke="#1e1e1e" stroke-width="1"/>
<text x="296.5" y="352.1" font-size="7.7" fill="#222222" stroke="#222222" stroke-width="0.15" text-anchor="middle">0</text>
<line x1="312.84" y1="340.4" x2="312.84" y2="343.4" stroke="#1e1e1e" stroke-width="1"/>
<text x="312.84" y="352.1" font-size="7.7" fill="#222222" stroke="#222222" stroke-width="0.15" text-anchor="middle">3</text>
<line x1="329.18" y1="340.4" x2="329.18" y2="343.4" stroke="#1e1e1e" stroke-width="1"/>
<text x="329.18" y="352.1" font-size="7.7" fill="#222222" stroke="#222222" stroke-width="0.15" text-anchor="middle">6</text>
<line x1="345.52" y1="340.4" x2="345.52" y2="343.4" stroke="#1e1e1e" stroke-width="1"/>
<text x="345.52" y="352.1" font-size="7.7" fill="#222222" stroke="#222222" stroke-width="0.15" text-anchor="middle">9</text>
<line x1="361.86" y1="340.4" x2="361.86" y2="343.4" stroke="#1e1e1e" stroke-width="1"/>
<text x="361.86" y="352.1" font-size="7.7" fill="#222222" stroke="#222222" stroke-width="0.15" text-anchor="middle">12</text>
<line x1="378.2" y1="340.4" x2="378.2" y2="343.4" stroke="#1e1e1e" stroke-width="1"/>
<text x="378.2" y="352.1" font-size="7.7" fill="#222222" stroke="#222222" stroke-width="0.15" text-anchor="middle">15</text>
<line x1="394.54" y1="340.4" x2="394.54" y2="343.4" stroke="#1e1e1e" stroke-width="1"/>
<text x="394.54" y="352.1" font-size="7.7" fill="#222222" stroke="#222222" stroke-width="0.15" text-anchor="middle">18</text>
<line x1="410.88" y1="340.4" x2="410.88" y2="343.4" stroke="#1e1e1e" stroke-width="1"/>
<text x="410.88" y="352.1" font-size="7.7" fill="#222222" stroke="#222222" stroke-width="0.15" text-anchor="middle">21</text>
<line x1="427.22" y1="340.4" x2="427.22" y2="343.4" stroke="#1e1e1e" stroke-width="1"/>
<text x="427.22" y="352.1" font-size="7.7" fill="#222222" stroke="#222222" stroke-width="0.15" text-anchor="middle">24</text>
<line x1="443.56" y1="340.4" x2="443.56" y2="343.4" stroke="#1e1e1e" stroke-width="1"/>
<text x="443.56" y="352.1" font-size="7.7" fill="#222222" stroke="#222222" stroke-width="0.15" text-anchor="middle">27</text>
<line x1="459.9" y1="340.4" x2="459.9" y2="343.4" stroke="#1e1e1e" stroke-width="1"/>
<text x="459.9" y="352.1" font-size="7.7" fill="#222222" stroke="#222222" stroke-width="0.15" text-anchor="middle">30</text>
<line x1="476.24" y1="340.4" x2="476.24" y2="343.4" stroke="#1e1e1e" stroke-width="1"/>
<text x="476.24" y="352.1" font-size="7.7" fill="#222222" stroke="#222222" stroke-width="0.15" text-anchor="middle">33</text>
<line x1="492.58" y1="340.4" x2="492.58" y2="343.4" stroke="#1e1e1e" stroke-width="1"/>
<text x="492.58" y="352.1" font-size="7.7" fill="#222222" stroke="#222222" stroke-width="0.15" text-anchor="middle">36</text>
<line x1="508.92" y1="340.4" x2="508.92" y2="343.4" stroke="#1e1e1e" stroke-width="1"/>
<text x="508.92" y="352.1" font-size="7.7" fill="#222222" stroke="#222222" stroke-width="0.15" text-anchor="middle">39</text>
<text transform="translate(274 279.1) rotate(-90)" x="0" y="0" font-size="8.8" fill="#222222" stroke="#222222" stroke-width="0.3" text-anchor="middle" textLength="30" lengthAdjust="spacingAndGlyphs">Probability</text>
<text x="403.2" y="363.7" font-size="9.2" fill="#222222" stroke="#222222" stroke-width="0.3" text-anchor="middle" textLength="42" lengthAdjust="spacingAndGlyphs">Time (months)</text>
<text x="429" y="287.2" font-size="7.6" fill="#c92a4c" stroke="#c92a4c" stroke-width="0.15" textLength="82.2" lengthAdjust="spacingAndGlyphs">PD ≥ 1 yr (E/N = 18/25)</text>
<text x="377.8" y="318.9" font-size="7.6" fill="#2f6ca6" stroke="#2f6ca6" stroke-width="0.15" textLength="72.4" lengthAdjust="spacingAndGlyphs">PD &lt; 1 yr (E/N = 5/5)</text>
<text x="298.9" y="332.3" font-size="7.6" fill="#222222" stroke="#222222" stroke-width="0.15" textLength="57.9" lengthAdjust="spacingAndGlyphs">P-value = 0.0076</text>
<text x="293.8" y="369.5" font-size="7" fill="#222222" stroke="#222222" stroke-width="0.15" textLength="24.9" lengthAdjust="spacingAndGlyphs"># at risk</text>
<text x="288.9" y="381.4" font-size="7.2" fill="#c92a4c" stroke="#c92a4c" stroke-width="0.15" text-anchor="end" textLength="29" lengthAdjust="spacingAndGlyphs">PD ≥ 1 yr</text>
<text x="288.9" y="393.6" font-size="7.2" fill="#2f6ca6" stroke="#2f6ca6" stroke-width="0.15" text-anchor="end" textLength="29" lengthAdjust="spacingAndGlyphs">PD &lt; 1 yr</text>
<text x="297.2" y="381.9" font-size="7.2" fill="#c92a4c" stroke="#c92a4c" stroke-width="0.15" text-anchor="middle">25</text>
<text x="313.54" y="381.9" font-size="7.2" fill="#c92a4c" stroke="#c92a4c" stroke-width="0.15" text-anchor="middle">23</text>
<text x="329.88" y="381.9" font-size="7.2" fill="#c92a4c" stroke="#c92a4c" stroke-width="0.15" text-anchor="middle">21</text>
<text x="346.22" y="381.9" font-size="7.2" fill="#c92a4c" stroke="#c92a4c" stroke-width="0.15" text-anchor="middle">15</text>
<text x="362.56" y="381.9" font-size="7.2" fill="#c92a4c" stroke="#c92a4c" stroke-width="0.15" text-anchor="middle">14</text>
<text x="378.9" y="381.9" font-size="7.2" fill="#c92a4c" stroke="#c92a4c" stroke-width="0.15" text-anchor="middle">12</text>
<text x="395.24" y="381.9" font-size="7.2" fill="#c92a4c" stroke="#c92a4c" stroke-width="0.15" text-anchor="middle">11</text>
<text x="411.58" y="381.9" font-size="7.2" fill="#c92a4c" stroke="#c92a4c" stroke-width="0.15" text-anchor="middle">11</text>
<text x="427.92" y="381.9" font-size="7.2" fill="#c92a4c" stroke="#c92a4c" stroke-width="0.15" text-anchor="middle">10</text>
<text x="444.26" y="381.9" font-size="7.2" fill="#c92a4c" stroke="#c92a4c" stroke-width="0.15" text-anchor="middle">10</text>
<text x="460.6" y="381.9" font-size="7.2" fill="#c92a4c" stroke="#c92a4c" stroke-width="0.15" text-anchor="middle">7</text>
<text x="476.94" y="381.9" font-size="7.2" fill="#c92a4c" stroke="#c92a4c" stroke-width="0.15" text-anchor="middle">4</text>
<text x="493.28" y="381.9" font-size="7.2" fill="#c92a4c" stroke="#c92a4c" stroke-width="0.15" text-anchor="middle">2</text>
<text x="297.2" y="393.9" font-size="7.2" fill="#2f6ca6" stroke="#2f6ca6" stroke-width="0.15" text-anchor="middle">5</text>
<text x="313.54" y="393.9" font-size="7.2" fill="#2f6ca6" stroke="#2f6ca6" stroke-width="0.15" text-anchor="middle">5</text>
<text x="329.88" y="393.9" font-size="7.2" fill="#2f6ca6" stroke="#2f6ca6" stroke-width="0.15" text-anchor="middle">2</text>
<text x="346.22" y="393.9" font-size="7.2" fill="#2f6ca6" stroke="#2f6ca6" stroke-width="0.15" text-anchor="middle">1</text>
<text x="362.56" y="393.9" font-size="7.2" fill="#2f6ca6" stroke="#2f6ca6" stroke-width="0.15" text-anchor="middle">1</text>
<text x="378.9" y="393.9" font-size="7.2" fill="#2f6ca6" stroke="#2f6ca6" stroke-width="0.15" text-anchor="middle">0</text>
<text x="395.24" y="393.9" font-size="7.2" fill="#2f6ca6" stroke="#2f6ca6" stroke-width="0.15" text-anchor="middle">0</text>
<text x="411.58" y="393.9" font-size="7.2" fill="#2f6ca6" stroke="#2f6ca6" stroke-width="0.15" text-anchor="middle">0</text>
<text x="427.92" y="393.9" font-size="7.2" fill="#2f6ca6" stroke="#2f6ca6" stroke-width="0.15" text-anchor="middle">0</text>
<text x="444.26" y="393.9" font-size="7.2" fill="#2f6ca6" stroke="#2f6ca6" stroke-width="0.15" text-anchor="middle">0</text>
<text x="460.6" y="393.9" font-size="7.2" fill="#2f6ca6" stroke="#2f6ca6" stroke-width="0.15" text-anchor="middle">0</text>
<text x="476.94" y="393.9" font-size="7.2" fill="#2f6ca6" stroke="#2f6ca6" stroke-width="0.15" text-anchor="middle">0</text>
<text x="493.28" y="393.9" font-size="7.2" fill="#2f6ca6" stroke="#2f6ca6" stroke-width="0.15" text-anchor="middle">0</text>
<text x="7" y="425.8" font-size="11.6" fill="#111" stroke="#111" stroke-width="0.55" font-weight="bold">E</text>
<rect x="87.5" y="430.9" width="161.6" height="11.9" fill="#eec3ca"/>
<path d="M37.4 431H87V435.2H249.9" fill="none" stroke="#c92a4c" stroke-width="1.6" stroke-linejoin="miter"/>
<line x1="153.7" y1="433.5" x2="153.7" y2="436.9" stroke="#c92a4c" stroke-width="1.1"/>
<line x1="161.2" y1="433.5" x2="161.2" y2="436.9" stroke="#c92a4c" stroke-width="1.1"/>
<line x1="164" y1="433.5" x2="164" y2="436.9" stroke="#c92a4c" stroke-width="1.1"/>
<line x1="166.3" y1="433.5" x2="166.3" y2="436.9" stroke="#c92a4c" stroke-width="1.1"/>
<line x1="168.7" y1="433.5" x2="168.7" y2="436.9" stroke="#c92a4c" stroke-width="1.1"/>
<line x1="171" y1="433.5" x2="171" y2="436.9" stroke="#c92a4c" stroke-width="1.1"/>
<line x1="172.7" y1="433.5" x2="172.7" y2="436.9" stroke="#c92a4c" stroke-width="1.1"/>
<line x1="174.4" y1="433.5" x2="174.4" y2="436.9" stroke="#c92a4c" stroke-width="1.1"/>
<line x1="175.2" y1="433.5" x2="175.2" y2="436.9" stroke="#c92a4c" stroke-width="1.1"/>
<line x1="176.2" y1="433.5" x2="176.2" y2="436.9" stroke="#c92a4c" stroke-width="1.1"/>
<line x1="179" y1="433.5" x2="179" y2="436.9" stroke="#c92a4c" stroke-width="1.1"/>
<line x1="179.6" y1="433.5" x2="179.6" y2="436.9" stroke="#c92a4c" stroke-width="1.1"/>
<line x1="186.5" y1="433.5" x2="186.5" y2="436.9" stroke="#c92a4c" stroke-width="1.1"/>
<line x1="187.7" y1="433.5" x2="187.7" y2="436.9" stroke="#c92a4c" stroke-width="1.1"/>
<line x1="188.8" y1="433.5" x2="188.8" y2="436.9" stroke="#c92a4c" stroke-width="1.1"/>
<line x1="190.6" y1="433.5" x2="190.6" y2="436.9" stroke="#c92a4c" stroke-width="1.1"/>
<line x1="194" y1="433.5" x2="194" y2="436.9" stroke="#c92a4c" stroke-width="1.1"/>
<line x1="204" y1="433.5" x2="204" y2="436.9" stroke="#c92a4c" stroke-width="1.1"/>
<line x1="207.8" y1="433.5" x2="207.8" y2="436.9" stroke="#c92a4c" stroke-width="1.1"/>
<line x1="210.7" y1="433.5" x2="210.7" y2="436.9" stroke="#c92a4c" stroke-width="1.1"/>
<line x1="211.8" y1="433.5" x2="211.8" y2="436.9" stroke="#c92a4c" stroke-width="1.1"/>
<line x1="214.2" y1="433.5" x2="214.2" y2="436.9" stroke="#c92a4c" stroke-width="1.1"/>
<line x1="221.1" y1="433.5" x2="221.1" y2="436.9" stroke="#c92a4c" stroke-width="1.1"/>
<line x1="227.4" y1="433.5" x2="227.4" y2="436.9" stroke="#c92a4c" stroke-width="1.1"/>
<line x1="228.6" y1="433.5" x2="228.6" y2="436.9" stroke="#c92a4c" stroke-width="1.1"/>
<line x1="234.9" y1="433.5" x2="234.9" y2="436.9" stroke="#c92a4c" stroke-width="1.1"/>
<line x1="248.8" y1="433.5" x2="248.8" y2="436.9" stroke="#c92a4c" stroke-width="1.1"/>
<line x1="37.4" y1="426.3" x2="37.4" y2="556.5" stroke="#1e1e1e" stroke-width="1.2"/>
<line x1="36.8" y1="555.9" x2="256.2" y2="555.9" stroke="#1e1e1e" stroke-width="1.8"/>
<line x1="34.4" y1="431" x2="37.4" y2="431" stroke="#1e1e1e" stroke-width="1"/>
<text x="31.4" y="433.9" font-size="7.7" fill="#222222" stroke="#222222" stroke-width="0.15" text-anchor="end">1.0</text>
<line x1="34.4" y1="454.65" x2="37.4" y2="454.65" stroke="#1e1e1e" stroke-width="1"/>
<text x="31.4" y="457.55" font-size="7.7" fill="#222222" stroke="#222222" stroke-width="0.15" text-anchor="end">0.8</text>
<line x1="34.4" y1="478.3" x2="37.4" y2="478.3" stroke="#1e1e1e" stroke-width="1"/>
<text x="31.4" y="481.2" font-size="7.7" fill="#222222" stroke="#222222" stroke-width="0.15" text-anchor="end">0.6</text>
<line x1="34.4" y1="501.95" x2="37.4" y2="501.95" stroke="#1e1e1e" stroke-width="1"/>
<text x="31.4" y="504.85" font-size="7.7" fill="#222222" stroke="#222222" stroke-width="0.15" text-anchor="end">0.4</text>
<line x1="34.4" y1="525.6" x2="37.4" y2="525.6" stroke="#1e1e1e" stroke-width="1"/>
<text x="31.4" y="528.5" font-size="7.7" fill="#222222" stroke="#222222" stroke-width="0.15" text-anchor="end">0.2</text>
<line x1="34.4" y1="555.7" x2="37.4" y2="555.7" stroke="#1e1e1e" stroke-width="1"/>
<text x="31.4" y="558.6" font-size="7.7" fill="#222222" stroke="#222222" stroke-width="0.15" text-anchor="end">0.0</text>
<line x1="37.4" y1="555.9" x2="37.4" y2="558.9" stroke="#1e1e1e" stroke-width="1"/>
<text x="37.4" y="567.6" font-size="7.7" fill="#222222" stroke="#222222" stroke-width="0.15" text-anchor="middle">0</text>
<line x1="50.62" y1="555.9" x2="50.62" y2="558.9" stroke="#1e1e1e" stroke-width="1"/>
<text x="50.62" y="567.6" font-size="7.7" fill="#222222" stroke="#222222" stroke-width="0.15" text-anchor="middle">3</text>
<line x1="63.84" y1="555.9" x2="63.84" y2="558.9" stroke="#1e1e1e" stroke-width="1"/>
<text x="63.84" y="567.6" font-size="7.7" fill="#222222" stroke="#222222" stroke-width="0.15" text-anchor="middle">6</text>
<line x1="77.06" y1="555.9" x2="77.06" y2="558.9" stroke="#1e1e1e" stroke-width="1"/>
<text x="77.06" y="567.6" font-size="7.7" fill="#222222" stroke="#222222" stroke-width="0.15" text-anchor="middle">9</text>
<line x1="90.28" y1="555.9" x2="90.28" y2="558.9" stroke="#1e1e1e" stroke-width="1"/>
<text x="90.28" y="567.6" font-size="7.7" fill="#222222" stroke="#222222" stroke-width="0.15" text-anchor="middle">12</text>
<line x1="103.5" y1="555.9" x2="103.5" y2="558.9" stroke="#1e1e1e" stroke-width="1"/>
<text x="103.5" y="567.6" font-size="7.7" fill="#222222" stroke="#222222" stroke-width="0.15" text-anchor="middle">15</text>
<line x1="116.72" y1="555.9" x2="116.72" y2="558.9" stroke="#1e1e1e" stroke-width="1"/>
<text x="116.72" y="567.6" font-size="7.7" fill="#222222" stroke="#222222" stroke-width="0.15" text-anchor="middle">18</text>
<line x1="129.94" y1="555.9" x2="129.94" y2="558.9" stroke="#1e1e1e" stroke-width="1"/>
<text x="129.94" y="567.6" font-size="7.7" fill="#222222" stroke="#222222" stroke-width="0.15" text-anchor="middle">21</text>
<line x1="143.16" y1="555.9" x2="143.16" y2="558.9" stroke="#1e1e1e" stroke-width="1"/>
<text x="143.16" y="567.6" font-size="7.7" fill="#222222" stroke="#222222" stroke-width="0.15" text-anchor="middle">24</text>
<line x1="156.38" y1="555.9" x2="156.38" y2="558.9" stroke="#1e1e1e" stroke-width="1"/>
<text x="156.38" y="567.6" font-size="7.7" fill="#222222" stroke="#222222" stroke-width="0.15" text-anchor="middle">27</text>
<line x1="169.6" y1="555.9" x2="169.6" y2="558.9" stroke="#1e1e1e" stroke-width="1"/>
<text x="169.6" y="567.6" font-size="7.7" fill="#222222" stroke="#222222" stroke-width="0.15" text-anchor="middle">30</text>
<line x1="182.82" y1="555.9" x2="182.82" y2="558.9" stroke="#1e1e1e" stroke-width="1"/>
<text x="182.82" y="567.6" font-size="7.7" fill="#222222" stroke="#222222" stroke-width="0.15" text-anchor="middle">33</text>
<line x1="196.04" y1="555.9" x2="196.04" y2="558.9" stroke="#1e1e1e" stroke-width="1"/>
<text x="196.04" y="567.6" font-size="7.7" fill="#222222" stroke="#222222" stroke-width="0.15" text-anchor="middle">36</text>
<line x1="209.26" y1="555.9" x2="209.26" y2="558.9" stroke="#1e1e1e" stroke-width="1"/>
<text x="209.26" y="567.6" font-size="7.7" fill="#222222" stroke="#222222" stroke-width="0.15" text-anchor="middle">39</text>
<line x1="222.48" y1="555.9" x2="222.48" y2="558.9" stroke="#1e1e1e" stroke-width="1"/>
<text x="222.48" y="567.6" font-size="7.7" fill="#222222" stroke="#222222" stroke-width="0.15" text-anchor="middle">42</text>
<line x1="235.7" y1="555.9" x2="235.7" y2="558.9" stroke="#1e1e1e" stroke-width="1"/>
<text x="235.7" y="567.6" font-size="7.7" fill="#222222" stroke="#222222" stroke-width="0.15" text-anchor="middle">45</text>
<line x1="248.92" y1="555.9" x2="248.92" y2="558.9" stroke="#1e1e1e" stroke-width="1"/>
<text x="248.92" y="567.6" font-size="7.7" fill="#222222" stroke="#222222" stroke-width="0.15" text-anchor="middle">48</text>
<text transform="translate(13.2 488.1) rotate(-90)" x="0" y="0" font-size="8.8" fill="#222222" stroke="#222222" stroke-width="0.3" text-anchor="middle" textLength="30" lengthAdjust="spacingAndGlyphs">Probability</text>
<text x="140.9" y="579" font-size="9.2" fill="#222222" stroke="#222222" stroke-width="0.3" text-anchor="middle" textLength="41.3" lengthAdjust="spacingAndGlyphs">Time (months)</text>
<text x="34.7" y="590.9" font-size="7" fill="#222222" stroke="#222222" stroke-width="0.15" textLength="25.1" lengthAdjust="spacingAndGlyphs"># at risk</text>
<text x="37.4" y="602.7" font-size="7.2" fill="#222222" stroke="#222222" stroke-width="0.15" text-anchor="middle">30</text>
<text x="50.62" y="602.7" font-size="7.2" fill="#222222" stroke="#222222" stroke-width="0.15" text-anchor="middle">30</text>
<text x="63.84" y="602.7" font-size="7.2" fill="#222222" stroke="#222222" stroke-width="0.15" text-anchor="middle">30</text>
<text x="77.06" y="602.7" font-size="7.2" fill="#222222" stroke="#222222" stroke-width="0.15" text-anchor="middle">30</text>
<text x="90.28" y="602.7" font-size="7.2" fill="#222222" stroke="#222222" stroke-width="0.15" text-anchor="middle">29</text>
<text x="103.5" y="602.7" font-size="7.2" fill="#222222" stroke="#222222" stroke-width="0.15" text-anchor="middle">29</text>
<text x="116.72" y="602.7" font-size="7.2" fill="#222222" stroke="#222222" stroke-width="0.15" text-anchor="middle">29</text>
<text x="129.94" y="602.7" font-size="7.2" fill="#222222" stroke="#222222" stroke-width="0.15" text-anchor="middle">29</text>
<text x="143.16" y="602.7" font-size="7.2" fill="#222222" stroke="#222222" stroke-width="0.15" text-anchor="middle">29</text>
<text x="156.38" y="602.7" font-size="7.2" fill="#222222" stroke="#222222" stroke-width="0.15" text-anchor="middle">27</text>
<text x="169.6" y="602.7" font-size="7.2" fill="#222222" stroke="#222222" stroke-width="0.15" text-anchor="middle">23</text>
<text x="182.82" y="602.7" font-size="7.2" fill="#222222" stroke="#222222" stroke-width="0.15" text-anchor="middle">17</text>
<text x="196.04" y="602.7" font-size="7.2" fill="#222222" stroke="#222222" stroke-width="0.15" text-anchor="middle">13</text>
<text x="209.26" y="602.7" font-size="7.2" fill="#222222" stroke="#222222" stroke-width="0.15" text-anchor="middle">10</text>
<text x="222.48" y="602.7" font-size="7.2" fill="#222222" stroke="#222222" stroke-width="0.15" text-anchor="middle">7</text>
<text x="235.7" y="602.7" font-size="7.2" fill="#222222" stroke="#222222" stroke-width="0.15" text-anchor="middle">1</text>
<rect x="0.5" y="0.5" width="519" height="609" fill="none" stroke="#000" stroke-width="1.2"/>
</svg>
</body></html>
